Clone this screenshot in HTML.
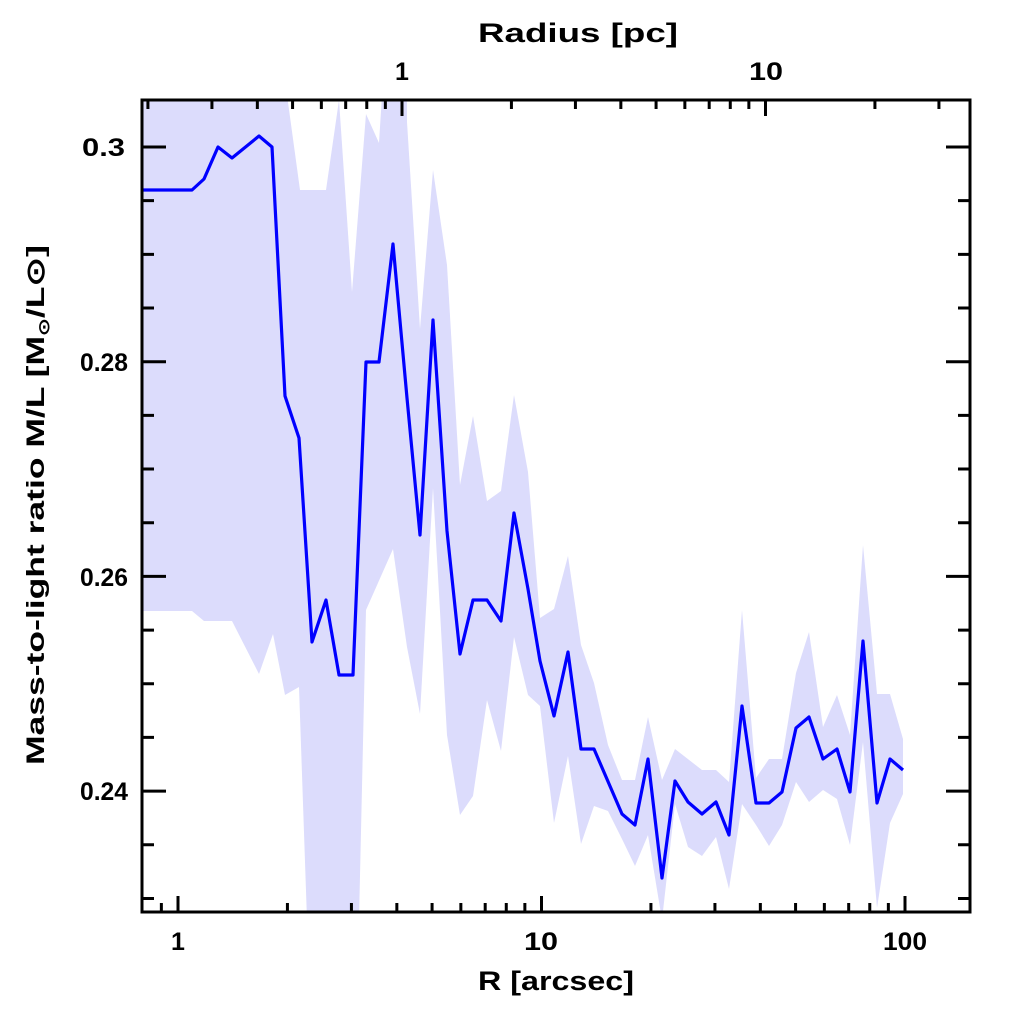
<!DOCTYPE html>
<html><head><meta charset="utf-8"><style>body{margin:0;background:#fff}svg{display:block}</style></head><body>
<svg width="1024" height="1024" xmlns="http://www.w3.org/2000/svg" font-family="Liberation Sans, sans-serif" font-weight="bold">
<defs><clipPath id="c"><rect x="142" y="100" width="828" height="812"/></clipPath></defs>
<g clip-path="url(#c)">
<polygon fill="#dcdcfc" points="142,95 287,95 300,190 326,190 339,100 352,292 366,114 379,143 382,95 407,95 407,122 420,329 433,170 447,265 460,485 473,416 487,501 501,491 514,395 528,472 540,618 554,609 568,556 581,645 594,683 608,745 622,780 635,780 648,717 662,780 675,749 702,770 716,770 729,782 742,610 756,778 769,759 782,759 796,673 809,632 823,727 837,695 850,735 863,545 877,694 890,694 903,739 903,794 890,823 877,908 863,742 850,845 837,799 823,790 809,802 796,782 782,825 769,846 756,825 742,804 729,889 716,837 702,856 688,847 675,804 662,920 648,835 635,866 622,839 608,811 594,806 581,844 568,756 554,823 540,706 528,695 514,637 501,751 487,700 473,796 460,815 447,735 433,488 420,714 407,647 393,549 366,610 359,920 307,920 299,687 285,695 273,634 259,674 232,621 204,621 192,611 142,611"/>
<polyline fill="none" stroke="#0000ff" stroke-width="3.2" stroke-linejoin="round" points="142,190 192,190 204,179 218,147 232,158 259,136 272,147 285,396 299,438 312,642 326,600 339,675 353,675 366,362 379,362 393,244 407,398 420,535 433,320 447,531 460,654 473,600 487,600 501,621 514,513 528,589 540,661 554,716 568,652 581,749 594,749 622,814 635,825 648,759 662,878 675,781 688,802 702,814 716,802 729,835 742,706 756,803 769,803 782,792 796,728 809,717 823,759 837,749 850,792 863,641 877,803 890,759 903,770"/>
</g>
<rect x="142" y="100" width="828" height="812" stroke="#000" stroke-width="3" fill="none"/>
<g id="t" stroke="#000" stroke-width="3"></g>
<g font-size="25" text-anchor="middle" fill="#000">
<text x="178" y="950">1</text><text x="541" y="950" textLength="34" lengthAdjust="spacingAndGlyphs">10</text><text x="905" y="950" textLength="44" lengthAdjust="spacingAndGlyphs">100</text>
<text x="402" y="80">1</text><text x="766" y="80" textLength="34" lengthAdjust="spacingAndGlyphs">10</text>
</g>
<g font-size="25" fill="#000">
<text x="82" y="156" textLength="43" lengthAdjust="spacingAndGlyphs">0.3</text>
<text x="80" y="371" textLength="48" lengthAdjust="spacingAndGlyphs">0.28</text>
<text x="80" y="586" textLength="48" lengthAdjust="spacingAndGlyphs">0.26</text>
<text x="80" y="800" textLength="48" lengthAdjust="spacingAndGlyphs">0.24</text>
</g>
<text x="478" y="990" font-size="27" textLength="156" lengthAdjust="spacingAndGlyphs">R [arcsec]</text>
<text x="478" y="42" font-size="27" textLength="200" lengthAdjust="spacingAndGlyphs">Radius [pc]</text>
<text transform="translate(44,765) rotate(-90)" font-size="25" textLength="520" lengthAdjust="spacingAndGlyphs">Mass-to-light ratio M/L [M<tspan font-size="15" dy="5">⊙</tspan><tspan dy="-5">/L⊙]</tspan></text>
<script>
var g=document.getElementById('t'),d='';
function L(x1,y1,x2,y2){d+='M'+x1+' '+y1+'L'+x2+' '+y2;}
for(var e=-1;e<3;e++)for(var k=1;k<10;k++){var v=k*Math.pow(10,e);var x=178+363.5*Math.log10(v);var l=k==1?16:9;if(x>143&&x<969)L(x,912,x,912-l);
var xt=402+363.5*Math.log10(v);if(xt>143&&xt<969)L(xt,100,xt,100+l);}
for(var i=0;i<20;i++){var val=0.23+i*0.005;var y=147+(0.3-val)*10735;if(y<101||y>911)continue;var maj=(i%4==2);var l=maj?24:12;L(142,y,142+l,y);L(970,y,970-l,y);}
var p=document.createElementNS('http://www.w3.org/2000/svg','path');p.setAttribute('d',d);p.setAttribute('fill','none');g.appendChild(p);
</script>
</svg>
</body></html>
